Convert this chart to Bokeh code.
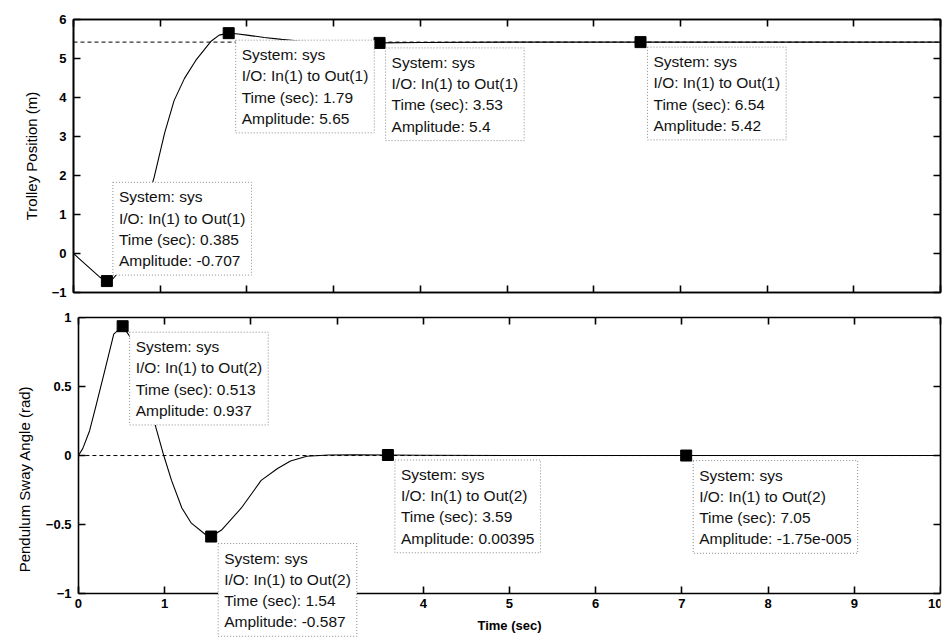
from bokeh.plotting import figure
from bokeh.layouts import column
from bokeh.models import LinearAxis, Range1d, Label, FixedTicker
from bokeh.embed import file_html
from bokeh.resources import INLINE

# ---------------- data ----------------
t_pos = [0, 0.1, 0.2, 0.3, 0.385, 0.45, 0.55, 0.65, 0.75, 0.85, 0.93, 1.05, 1.16, 1.28,
         1.41, 1.5, 1.59, 1.68, 1.79, 1.9, 2.0, 2.2, 2.4, 2.6, 2.8, 3.0, 3.2, 3.53, 4.0,
         5.0, 6.0, 6.54, 7.0, 8.0, 9.0, 10.0]
pos = [0, -0.2, -0.4, -0.6, -0.707, -0.66, -0.4, 0.05, 0.65, 1.35, 1.95, 3.08, 3.92, 4.49,
       4.95, 5.2, 5.45, 5.6, 5.65, 5.63, 5.6, 5.54, 5.49, 5.45, 5.42, 5.41, 5.4, 5.4, 5.41,
       5.42, 5.42, 5.42, 5.42, 5.42, 5.42, 5.42]

t_ang = [0, 0.05, 0.13, 0.2, 0.3, 0.41, 0.513, 0.6, 0.7, 0.8, 0.9, 0.99, 1.08, 1.2, 1.31,
         1.47, 1.54, 1.66, 1.89, 2.12, 2.31, 2.46, 2.65, 2.9, 3.2, 3.59, 4.0, 5.0, 6.0,
         7.05, 8.0, 9.0, 10.0]
ang = [0, 0.05, 0.18, 0.35, 0.6, 0.88, 0.937, 0.86, 0.68, 0.45, 0.2, 0.0, -0.18, -0.38,
       -0.49, -0.57, -0.587, -0.54, -0.38, -0.18, -0.094, -0.04, -0.005, 0.004, 0.005,
       0.00395, 0.002, 0.0, 0.0, -0.0000175, 0.0, 0.0, 0.0]

pos_final = 5.42
ang_final = 0.0

pos_tip_t = [0.385, 1.79, 3.53, 6.54]
pos_tip_y = [-0.707, 5.65, 5.4, 5.42]
pos_tip_time = ["0.385", "1.79", "3.53", "6.54"]
pos_tip_amp = ["-0.707", "5.65", "5.4", "5.42"]

ang_tip_t = [0.513, 1.54, 3.59, 7.05]
ang_tip_y = [0.937, -0.587, 0.00395, -1.75e-5]
ang_tip_time = ["0.513", "1.54", "3.59", "7.05"]
ang_tip_amp = ["0.937", "-0.587", "0.00395", "-1.75e-005"]

x_ticks = [0, 1, 2, 3, 4, 5, 6, 7, 8, 9, 10]
pos_ticks = [-1, 0, 1, 2, 3, 4, 5, 6]
ang_ticks = [-1, -0.5, 0, 0.5, 1]
pos_lim = (-1, 6)
ang_lim = (-1, 1)
x_lim = (0, 10)

FONT = "Liberation Sans"


def style_axis(ax, ticks, show_labels=True):
    ax.ticker = FixedTicker(ticks=ticks)
    ax.axis_line_width = 1.6
    ax.axis_line_color = "black"
    ax.major_tick_in = 7
    ax.major_tick_out = 0
    ax.major_tick_line_width = 1.6
    ax.major_tick_line_color = "black"
    ax.minor_tick_line_color = None
    ax.major_label_text_font = FONT
    ax.major_label_text_font_style = "bold"
    ax.major_label_text_font_size = "13px"
    ax.major_label_text_color = "black"
    ax.axis_label_text_font = FONT
    ax.axis_label_text_color = "black"
    ax.major_label_standoff = 7
    if not show_labels:
        ax.major_label_overrides = {v: "" for v in ticks}
        ax.major_label_standoff = 0
        ax.major_label_text_font_size = "1px"


def add_tips(p, ts, ys, times, amps, out_name, placements):
    p.scatter(ts, ys, marker="square", size=11, color="black")
    for t, y, tm, am, (xo, yo, base) in zip(ts, ys, times, amps, placements):
        txt = "System: sys\nI/O: In(1) to %s\nTime (sec): %s\nAmplitude: %s" % (out_name, tm, am)
        p.add_layout(Label(x=t, y=y, x_offset=xo, y_offset=yo, text=txt,
                           text_font=FONT, text_font_size="15.5px", text_color="#111111",
                           text_line_height=1.25, text_align="left", text_baseline=base,
                           background_fill_color="white", background_fill_alpha=1.0,
                           border_line_color="#8a8a8a", border_line_dash="1 2",
                           border_line_width=1, padding=6))


# ---------------- top: trolley position ----------------
p1 = figure(width=942, height=304, x_range=Range1d(*x_lim), y_range=Range1d(*pos_lim),
            output_backend="svg", toolbar_location=None,
            min_border_left=73, min_border_right=2, min_border_top=19, min_border_bottom=12)
p1.xgrid.visible = False
p1.ygrid.visible = False
p1.outline_line_color = "black"
p1.outline_line_width = 1.6
style_axis(p1.below[0], x_ticks, False)
ly1 = p1.left[0]
style_axis(ly1, pos_ticks, True)
ly1.axis_label = "Trolley Position (m)"
ly1.axis_label_text_font_style = "normal"
ly1.axis_label_text_font_size = "15px"
ly1.axis_label_standoff = 9
ta1 = LinearAxis()
style_axis(ta1, x_ticks, False)
p1.add_layout(ta1, "above")
ra1 = LinearAxis()
style_axis(ra1, pos_ticks, False)
p1.add_layout(ra1, "right")

p1.line(list(x_lim), [pos_final, pos_final], line_color="black", line_dash="4 3", line_width=1)
p1.line(t_pos, pos, line_color="black", line_width=1.1)
add_tips(p1, pos_tip_t, pos_tip_y, pos_tip_time, pos_tip_amp, "Out(1)",
         [(6, 6, "bottom"), (7, -7, "top"), (6, -5, "top"), (7, -5, "top")])

# ---------------- bottom: pendulum sway angle ----------------
# The frame of this panel is a few pixels wider on the left and extends below -1 so that
# the data tip of the minimum can cover the x-axis labels as in the original; the axis
# lines are placed at the real limits and bounded to them.
p2 = figure(width=942, height=336, x_range=Range1d(-0.057, x_lim[1]), y_range=Range1d(-1.34, 1),
            output_backend="svg", toolbar_location=None, x_axis_location=None,
            min_border_left=60, min_border_right=2, min_border_top=13, min_border_bottom=0)
p2.xgrid.visible = False
p2.ygrid.visible = False
p2.outline_line_color = None

# tick labels + axis title (in the side panel)
ly2 = p2.left[0]
style_axis(ly2, ang_ticks, True)
ly2.bounds = ang_lim
ly2.axis_line_color = None
ly2.major_tick_line_color = None
ly2.major_label_standoff = 2
ly2.axis_label = "Pendulum Sway Angle (rad)"
ly2.axis_label_text_font_style = "normal"
ly2.axis_label_text_font_size = "15px"
ly2.axis_label_standoff = 10
# axis line + ticks at t = 0
lyl = LinearAxis(fixed_location=x_lim[0], bounds=ang_lim)
style_axis(lyl, ang_ticks, False)
p2.add_layout(lyl, "left")

ba2 = LinearAxis(fixed_location=ang_lim[0], bounds=x_lim)
style_axis(ba2, x_ticks, True)
ba2.major_label_standoff = 5
ba2.axis_label = "Time (sec)"
ba2.axis_label_text_font_style = "bold"
ba2.axis_label_text_font_size = "13px"
ba2.axis_label_standoff = 7
p2.add_layout(ba2, "below")

ta2 = LinearAxis(bounds=x_lim)
style_axis(ta2, x_ticks, False)
p2.add_layout(ta2, "above")
ra2 = LinearAxis(bounds=ang_lim)
style_axis(ra2, ang_ticks, False)
p2.add_layout(ra2, "right")

p2.line(list(x_lim), [ang_final, ang_final], line_color="black", line_dash="4 3", line_width=1)
p2.line(t_ang, ang, line_color="black", line_width=1.1)
add_tips(p2, ang_tip_t, ang_tip_y, ang_tip_time, ang_tip_amp, "Out(2)",
         [(7, -6, "top"), (7, -7, "top"), (7, -5, "top"), (7, -5, "top")])

layout = column(p1, p2, spacing=0)
open("out.html", "w").write(file_html(layout, INLINE))
